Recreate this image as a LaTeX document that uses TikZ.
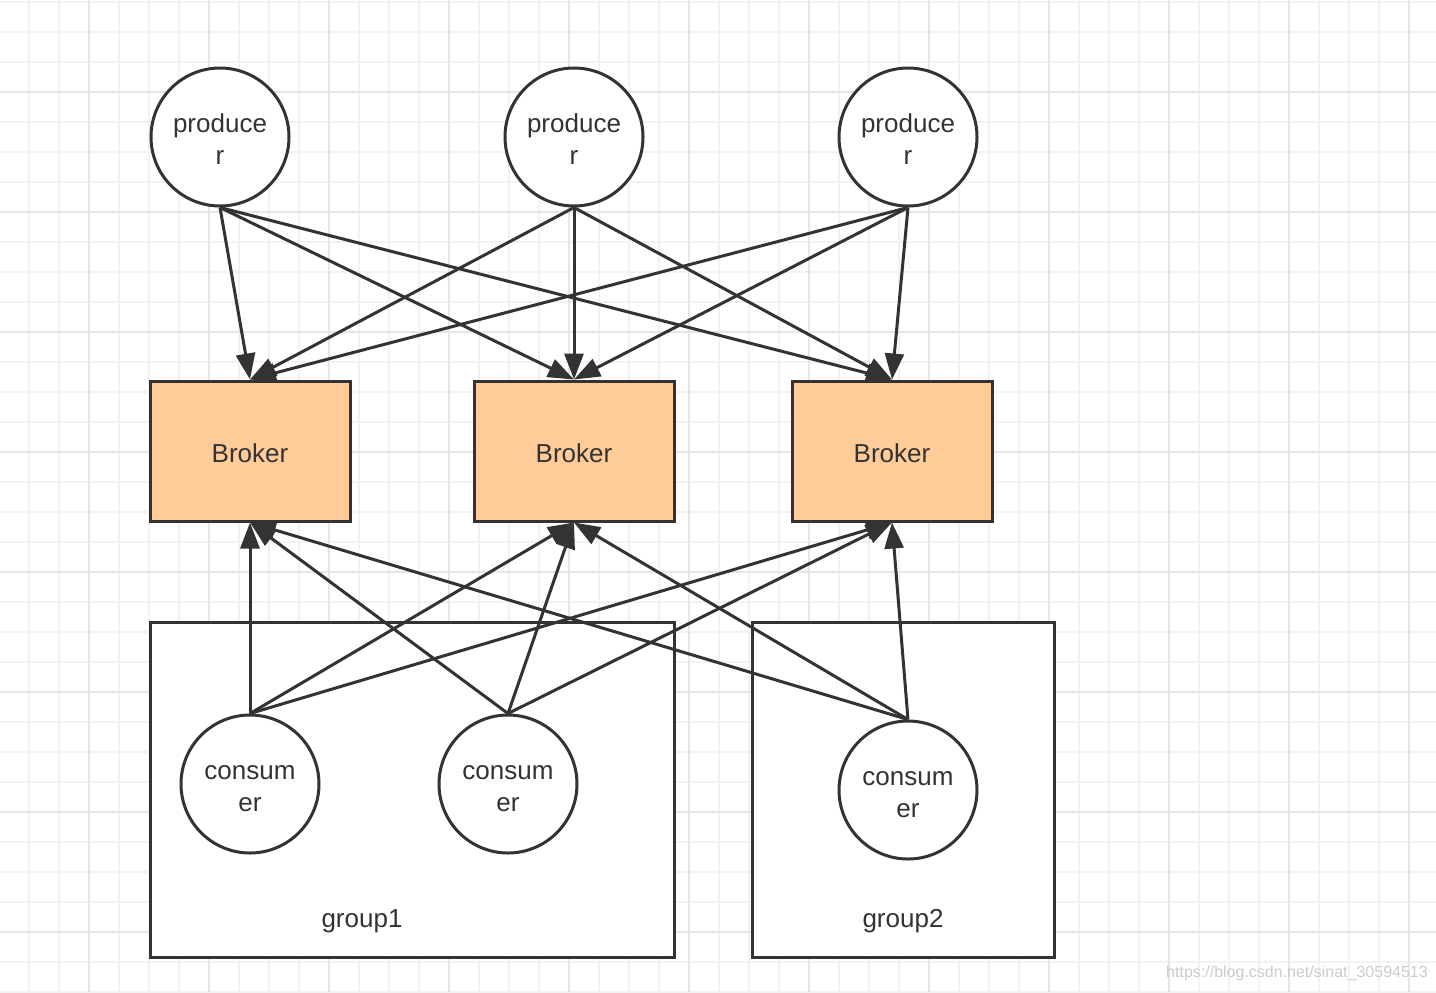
\documentclass[tikz,border=0pt]{standalone}
\usepackage{fontspec}
\setmainfont{Liberation Sans}
\usetikzlibrary{arrows.meta}

\definecolor{ink}{HTML}{333333}
\definecolor{peach}{HTML}{FFCC99}
\definecolor{gridminor}{HTML}{F2F2F2}
\definecolor{gridmajor}{HTML}{E6E6E6}

\begin{document}
\begin{tikzpicture}[x=0.5pt, y=-0.5pt]
        \tikzset{vertex/.style = {shape=circle, draw=ink, line width=1.5pt, fill=white, minimum size=69pt, inner sep=0pt, align=center, text height=27.5pt, text=ink, font=\fontsize{13pt}{16pt}\selectfont}}
        \tikzset{broker/.style = {shape=rectangle, draw=ink, line width=1.5pt, fill=peach, minimum width=100pt, minimum height=70pt, text height=11.4pt, text=ink, font=\fontsize{13pt}{16pt}\selectfont}}
        \tikzset{groupbox/.style = {shape=rectangle, draw=ink, line width=1.5pt, fill=white, minimum height=167.5pt}}
        \tikzset{label/.style = {text=ink, yshift=-1.5pt, font=\fontsize{13pt}{16pt}\selectfont}}
        \tikzset{edge/.style = {draw=ink, line width=1.5pt, -{Triangle[length=13pt, width=9.5pt]}}}

        \useasboundingbox (0, 0) rectangle (1436, 992);
        \fill[white] (0, 0) rectangle (1436, 992);

        % grid
        \foreach \x in {29, 59, ..., 1409}
          \draw[gridminor, line width=1pt] (\x, 0) -- (\x, 992);
        \foreach \y in {2, 32, ..., 992}
          \draw[gridminor, line width=1pt] (0, \y) -- (1436, \y);
        \foreach \x in {89, 209, ..., 1409}
          \draw[gridmajor, line width=1pt] (\x, 0) -- (\x, 992);
        \foreach \y in {92, 212, ..., 932}
          \draw[gridmajor, line width=1pt] (0, \y) -- (1436, \y);

        % groups
        \node[groupbox, minimum width=262pt] (g1) at (412, 789.5) {};
        \node[groupbox, minimum width=151pt] (g2) at (903, 789.5) {};
        \node[label] (g1text) at (362, 918) {group1};
        \node[label] (g2text) at (903, 918) {group2};

        % producers
        \node[vertex] (p1) at (220, 137) {produce\\r};
        \node[vertex] (p2) at (574, 137) {produce\\r};
        \node[vertex] (p3) at (908, 137) {produce\\r};

        % brokers
        \node[broker] (b1) at (250, 451) {Broker};
        \node[broker] (b2) at (574, 451) {Broker};
        \node[broker] (b3) at (892, 451) {Broker};

        % consumers
        \node[vertex] (c1) at (250, 784) {consum\\er};
        \node[vertex] (c2) at (508, 784) {consum\\er};
        \node[vertex] (c3) at (908, 790) {consum\\er};

        \foreach \p in {p1, p2, p3}
          \foreach \b in {b1, b2, b3}
            \draw[edge] (\p.south) to (\b.north);
        \foreach \c in {c1, c2, c3}
          \foreach \b in {b1, b2, b3}
            \draw[edge] (\c.north) to (\b.south);

        \node[text=black!20, font=\fontsize{8pt}{10pt}\selectfont] (mark) at (1297, 973) {https://blog.csdn.net/sinat\_30594513};
      \end{tikzpicture}
\end{document}
